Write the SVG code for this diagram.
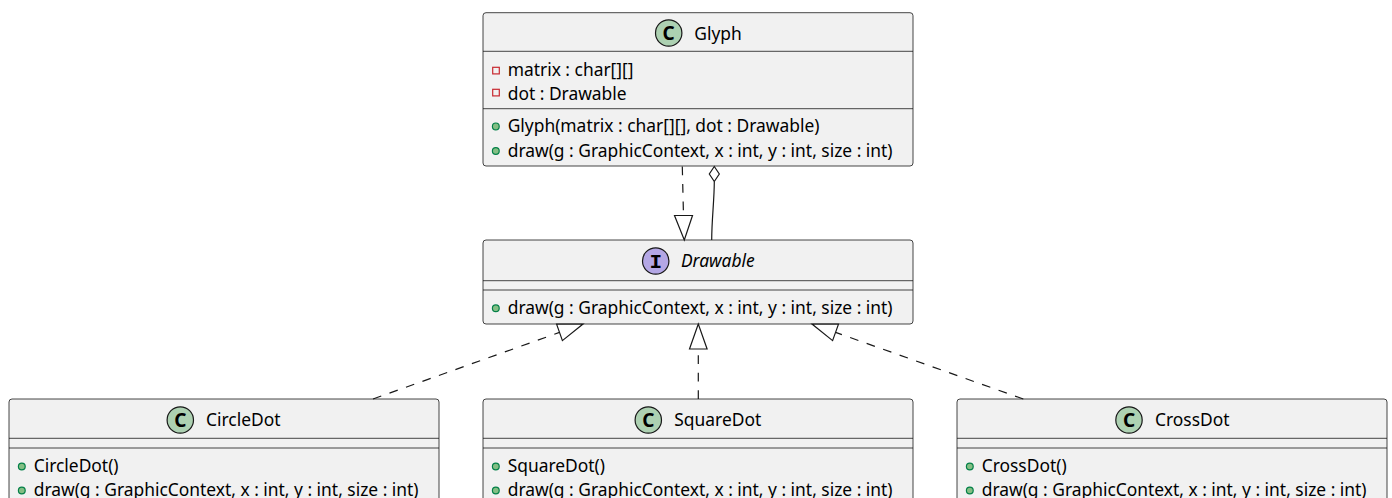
<svg xmlns="http://www.w3.org/2000/svg" width="1392" height="498" viewBox="0 0 1392 498">
<style>
.box{fill:#F1F1F1;stroke:#181818;stroke-width:0.8}
.div{stroke:#181818;stroke-width:0.8}
.t{font-family:"Noto Sans","DejaVu Sans",sans-serif;font-size:17.4px;fill:#000}
.ti{font-family:"Noto Sans","DejaVu Sans",sans-serif;font-size:17.4px;font-style:italic;fill:#000}
.cc{fill:#ADD1B2;stroke:#181818;stroke-width:1.2}
.ic{fill:#B4A7E5;stroke:#181818;stroke-width:1.2}
.cl{font-family:"Noto Sans","DejaVu Sans",sans-serif;font-size:19px;font-weight:bold;fill:#000;text-anchor:middle}
.il{font-family:"Liberation Mono","DejaVu Sans Mono",monospace;font-size:21px;font-weight:bold;fill:#000;text-anchor:middle}
.pub{fill:#84BE84;stroke:#038048;stroke-width:1.2}
.priv{fill:none;stroke:#C82930;stroke-width:1.2}
.ln{fill:none;stroke:#181818;stroke-width:1.2}
.dash{fill:none;stroke:#181818;stroke-width:1.2;stroke-dasharray:8.75,8.75}
.hd{fill:#FFFFFF;stroke:#181818;stroke-width:1.2}
</style>

<g id="Glyph">
<rect class="box" x="483" y="12.7" width="430" height="153.3" rx="3"/>
<line class="div" x1="483" y1="51.3" x2="913" y2="51.3"/>
<line class="div" x1="483" y1="108.7" x2="913" y2="108.7"/>
<circle class="cc" cx="668.7" cy="33" r="13.2"/>
<text class="cl" x="668.7" y="40">C</text>
<text class="t" x="694.3" y="39.7">Glyph</text>
<rect class="priv" x="492.7" y="67.3" width="6.6" height="6.6"/>
<text class="t" x="507.7" y="75.7">matrix : char[][]</text>
<rect class="priv" x="492.7" y="89.3" width="6.6" height="6.6"/>
<text class="t" x="507.7" y="99.5">dot : Drawable</text>
<circle class="pub" cx="495.8" cy="126.4" r="3.4"/>
<text class="t" x="507.7" y="132.4">Glyph(matrix : char[][], dot : Drawable)</text>
<circle class="pub" cx="495.8" cy="151" r="3.4"/>
<text class="t" x="507.7" y="156.6">draw(g : GraphicContext, x : int, y : int, size : int)</text>
</g>

<g id="Drawable">
<rect class="box" x="483" y="240" width="430" height="84" rx="3"/>
<line class="div" x1="483" y1="280.7" x2="913" y2="280.7"/>
<line class="div" x1="483" y1="290" x2="913" y2="290"/>
<circle class="ic" cx="655.7" cy="261" r="13.2"/>
<text class="il" x="655.7" y="268">I</text>
<text class="ti" x="681" y="267.3">Drawable</text>
<circle class="pub" cx="495.8" cy="308.3" r="3.4"/>
<text class="t" x="507.7" y="314">draw(g : GraphicContext, x : int, y : int, size : int)</text>
</g>

<g id="CircleDot">
<rect class="box" x="9" y="399" width="430" height="110" rx="3"/>
<line class="div" x1="9" y1="438.3" x2="439" y2="438.3"/>
<line class="div" x1="9" y1="448" x2="439" y2="448"/>
<circle class="cc" cx="180.3" cy="420" r="13.2"/>
<text class="cl" x="180.3" y="427">C</text>
<text class="t" x="206" y="425.5">CircleDot</text>
<circle class="pub" cx="21.8" cy="466.5" r="3.4"/>
<text class="t" x="33.7" y="471.8">CircleDot()</text>
<circle class="pub" cx="21.8" cy="490.5" r="3.4"/>
<text class="t" x="33.7" y="495.6">draw(g : GraphicContext, x : int, y : int, size : int)</text>
</g>

<g id="SquareDot">
<rect class="box" x="483" y="399" width="430" height="110" rx="3"/>
<line class="div" x1="483" y1="438.3" x2="913" y2="438.3"/>
<line class="div" x1="483" y1="448" x2="913" y2="448"/>
<circle class="cc" cx="648.3" cy="420" r="13.2"/>
<text class="cl" x="648.3" y="427">C</text>
<text class="t" x="674.3" y="425.5">SquareDot</text>
<circle class="pub" cx="495.8" cy="466.5" r="3.4"/>
<text class="t" x="507.7" y="471.8">SquareDot()</text>
<circle class="pub" cx="495.8" cy="490.5" r="3.4"/>
<text class="t" x="507.7" y="495.6">draw(g : GraphicContext, x : int, y : int, size : int)</text>
</g>

<g id="CrossDot">
<rect class="box" x="957" y="399" width="430" height="110" rx="3"/>
<line class="div" x1="957" y1="438.3" x2="1387" y2="438.3"/>
<line class="div" x1="957" y1="448" x2="1387" y2="448"/>
<circle class="cc" cx="1129" cy="420" r="13.2"/>
<text class="cl" x="1129" y="427">C</text>
<text class="t" x="1155" y="425.5">CrossDot</text>
<circle class="pub" cx="969.8" cy="466.5" r="3.4"/>
<text class="t" x="981.7" y="471.8">CrossDot()</text>
<circle class="pub" cx="969.8" cy="490.5" r="3.4"/>
<text class="t" x="981.7" y="495.6">draw(g : GraphicContext, x : int, y : int, size : int)</text>
</g>

<g id="connectors">
<path class="dash" d="M682.3,166.5 L683.5,215.5"/>
<polygon class="hd" points="674.5,215.5 692.5,215.5 684.3,240"/>
<path class="ln" d="M714.3,181.5 C714.3,200 711.7,220 711.7,240"/>
<polygon class="hd" points="714.3,166.5 719.3,174 714.3,181.5 709.3,174"/>
<path class="dash" d="M373,399 L559.5,332.4"/>
<polygon class="hd" points="583,324 556.6,324.2 562.4,340.6"/>
<path class="dash" d="M698.3,399 L698.3,349"/>
<polygon class="hd" points="698.3,324 689.5,349 707.1,349"/>
<path class="dash" d="M1023.3,399 L835.6,332.4"/>
<polygon class="hd" points="812,324 838.5,324.1 832.6,340.6"/>
</g>
</svg>
